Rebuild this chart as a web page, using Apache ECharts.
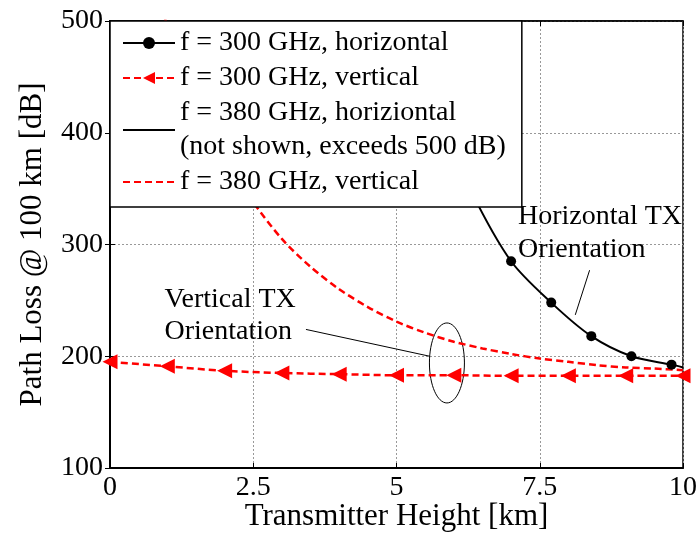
<!DOCTYPE html>
<html lang="en">
<head>
    <meta charset="utf-8">
    <title>Path Loss vs Transmitter Height</title>
    <style>
        html, body, #main { width: 100%; height: 100%; margin: 0; padding: 0; overflow: hidden; background: #fff; }
    </style>
</head>
<body>
    <div id="main"></div>
    <script src="https://cdn.jsdelivr.net/npm/echarts@6/dist/echarts.min.js"></script>
    <script>
        // f = 300 GHz, horizontal (markers every 0.7 km, last point line only)
        var h300x = [4.9, 5.6, 6.3, 7.0, 7.7, 8.4, 9.1, 9.8, 10];
        var h300y = [560, 430, 348, 285, 248, 218, 200, 192.5, 190];
        // f = 300 GHz, vertical
        var v300x = [0, 1, 2, 3, 4, 5, 6, 7, 8, 9, 10];
        var v300y = [195, 191, 187, 185, 184, 183, 183, 182.5, 182.5, 182.5, 182.5];
        // f = 380 GHz, horizontal -> above 500 dB, not drawn
        var h380x = [];
        var h380y = [];
        // f = 380 GHz, vertical
        var v380x = [0.5, 1, 1.5, 2, 2.5, 3, 3.5, 4, 4.5, 5, 5.5, 6, 6.5, 7, 7.5, 8, 8.5, 9, 9.5, 10];
        var v380y = [580, 496, 430, 379, 338, 305, 280, 260, 244, 231, 221, 213, 207, 202, 198, 195, 192, 190, 189, 187.5];

        var names = [
            'f = 300 GHz, horizontal',
            'f = 300 GHz, vertical',
            'f = 380 GHz, horiziontal\n(not shown, exceeds 500 dB)',
            'f = 380 GHz, vertical'
        ];
        var xTicks = [0, 10, 2.5];   // min, max, interval
        var yTicks = [100, 500, 100];

        function pairs(xs, ys) {
            var out = [];
            for (var i = 0; i < xs.length; i++) out.push([xs[i], ys[i]]);
            return out;
        }

        var FONT = '"Liberation Serif", "Times New Roman", serif';
        var h300 = pairs(h300x, h300y);
        h300[h300.length - 1] = { value: h300[h300.length - 1], symbol: 'none' };

        var chart = echarts.init(document.getElementById('main'));
        var option = {
            animation: false,
            grid: {
                left: 110, right: 16, top: 21, bottom: 65,
                outerBoundsMode: 'none', containLabel: false,
                show: true, borderColor: '#000', borderWidth: 1.5
            },
            legend: {
                data: names,
                left: 110,
                top: 21,
                orient: 'vertical',
                padding: [5, 16, 8, 12],
                backgroundColor: '#fff',
                borderColor: '#000',
                borderWidth: 1.5,
                itemGap: 1,
                itemWidth: 52,
                itemHeight: 15,
                textStyle: { fontFamily: FONT, fontSize: 28, lineHeight: 34, color: '#000' }
            },
            xAxis: [{
                type: 'value',
                min: xTicks[0], max: xTicks[1], interval: xTicks[2],
                name: 'Transmitter Height [km]',
                nameLocation: 'middle',
                nameGap: 33,
                nameMoveOverlap: false,
                nameTextStyle: { fontFamily: FONT, fontSize: 31, color: '#000' },
                axisLine: { lineStyle: { color: '#000', width: 2 } },
                axisTick: { inside: true, length: 5, lineStyle: { color: '#000' } },
                axisLabel: { fontFamily: FONT, fontSize: 28, color: '#000', margin: 6 },
                splitLine: { show: true, lineStyle: { color: '#999', type: [2, 2], width: 1 } }
            }, {
                type: 'value', position: 'top',
                min: xTicks[0], max: xTicks[1], interval: xTicks[2],
                axisLine: { lineStyle: { color: '#000', width: 1.5 } },
                axisTick: { inside: true, length: 5, lineStyle: { color: '#000' } },
                axisLabel: { show: false }, splitLine: { show: false }
            }],
            yAxis: [{
                type: 'value',
                min: yTicks[0], max: yTicks[1], interval: yTicks[2],
                name: 'Path Loss @ 100 km [dB]',
                nameLocation: 'middle',
                nameGap: 62,
                nameTextStyle: { fontFamily: FONT, fontSize: 31, color: '#000' },
                axisLine: { lineStyle: { color: '#000', width: 2 } },
                axisTick: { inside: true, length: 5, lineStyle: { color: '#000' } },
                axisLabel: { fontFamily: FONT, fontSize: 28, color: '#000', margin: 7 },
                splitLine: { show: true, lineStyle: { color: '#999', type: [2, 2], width: 1 } }
            }, {
                type: 'value', position: 'right',
                min: yTicks[0], max: yTicks[1], interval: yTicks[2],
                axisLine: { lineStyle: { color: '#000', width: 1.5 } },
                axisTick: { inside: true, length: 5, lineStyle: { color: '#000' } },
                axisLabel: { show: false }, splitLine: { show: false }
            }],
            series: [{
                name: names[0],
                type: 'line',
                data: h300,
                smooth: 0.3,
                symbol: 'circle',
                symbolSize: 10,
                itemStyle: { color: '#000' },
                lineStyle: { color: '#000', width: 2 },
                clip: true
            }, {
                name: names[1],
                type: 'line',
                data: pairs(v300x, v300y),
                smooth: 0.3,
                symbol: 'triangle',
                symbolRotate: 90,
                symbolSize: 15,
                itemStyle: { color: '#ff0000' },
                lineStyle: { color: '#ff0000', width: 2.5, type: [7, 4] },
                clip: true
            }, {
                name: names[2],
                type: 'line',
                data: pairs(h380x, h380y),
                symbol: 'none',
                itemStyle: { color: 'rgba(0,0,0,0)' },
                lineStyle: { color: '#000', width: 2 }
            }, {
                name: names[3],
                type: 'line',
                data: pairs(v380x, v380y),
                smooth: 0.3,
                symbol: 'none',
                itemStyle: { color: 'rgba(0,0,0,0)' },
                lineStyle: { color: '#ff0000', width: 2.5, type: [7, 4] },
                clip: true
            }]
        };
        chart.setOption(option);

        // annotations placed in data space
        function px(x, y) { return chart.convertToPixel({ xAxisIndex: 0, yAxisIndex: 0 }, [x, y]); }
        var hText = px(7.12, 340), vText = px(0.95, 264.7);
        var hA = px(8.37, 277), hB = px(8.12, 237);
        var vA = px(3.42, 224), vB = px(5.58, 200);
        var ell = px(5.88, 194);
        chart.setOption({
            graphic: [
                { type: 'text', x: hText[0], y: hText[1],
                  style: { text: 'Horizontal TX\nOrientation', font: '28px ' + FONT, fill: '#000', lineHeight: 33, verticalAlign: 'top' } },
                { type: 'text', x: vText[0], y: vText[1],
                  style: { text: 'Vertical TX\nOrientation', font: '28px ' + FONT, fill: '#000', lineHeight: 32, verticalAlign: 'top' } },
                { type: 'line', shape: { x1: hA[0], y1: hA[1], x2: hB[0], y2: hB[1] }, style: { stroke: '#000', lineWidth: 1 } },
                { type: 'line', shape: { x1: vA[0], y1: vA[1], x2: vB[0], y2: vB[1] }, style: { stroke: '#000', lineWidth: 1 } },
                { type: 'ellipse', shape: { cx: ell[0], cy: ell[1], rx: 17.5, ry: 40 }, style: { fill: 'none', stroke: '#000', lineWidth: 1 } }
            ]
        });
    </script>
</body>
</html>
